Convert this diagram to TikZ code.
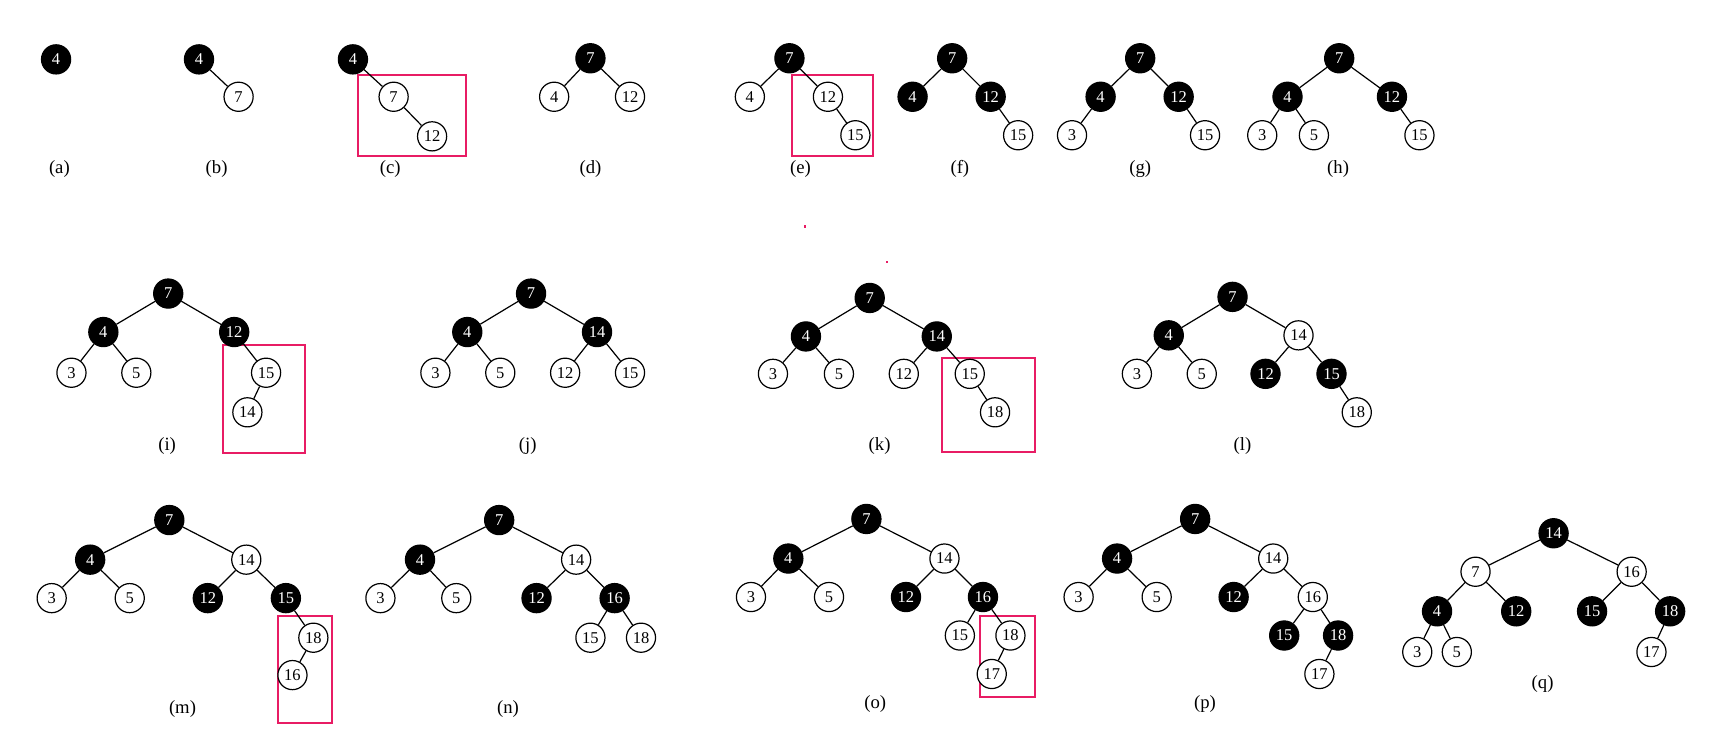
\documentclass[tikz,border=0pt]{standalone}
\usepackage{fontspec}
\setmainfont{Liberation Serif}
\definecolor{boxpink}{RGB}{232,28,100}
\begin{document}
\begin{tikzpicture}[x=1pt,y=-1pt,
  nd/.style={circle,draw=black,line width=1.1pt,minimum size=26.5pt,inner sep=0pt,font=\fontsize{15}{15}\selectfont},
  bn/.style={nd,fill=black,text=white},
  wn/.style={nd,fill=white,text=black},
  lab/.style={font=\fontsize{17}{17}\selectfont},
  hl/.style={draw=boxpink,line width=1.8pt},
  every path/.style={line width=1.1pt}]
\useasboundingbox (0,0) rectangle (1568,686);
% (a)
\node[bn] (a4) at (51,54) {4};
\node[lab] (la) at (54,154) {(a)};
% (b)
\node[bn] (b4) at (181,54) {4};
\node[wn] (b7) at (217,88) {7};
\draw (b4) -- (b7);
\node[lab] (lb) at (197,154) {(b)};
% (c)
\draw[hl] (326,68) rectangle (424,142);
\node[bn] (c4) at (321,54) {4};
\node[wn] (c7) at (358,88) {7};
\node[wn] (c12) at (393,124) {12};
\draw (c4) -- (c7) (c7) -- (c12);
\node[lab] (lc) at (355,154) {(c)};
% (d)
\node[bn] (d7) at (537,53) {7};
\node[wn] (d4) at (504,88) {4};
\node[wn] (d12) at (573,88) {12};
\draw (d7) -- (d4) (d7) -- (d12);
\node[lab] (ld) at (537,154) {(d)};
% (e)
\draw[hl] (720,68) rectangle (794,142);
\node[bn] (e7) at (718,53) {7};
\node[wn] (e4) at (682,88) {4};
\node[wn] (e12) at (753,88) {12};
\node[wn] (e15) at (778,123) {15};
\draw (e7) -- (e4) (e7) -- (e12) (e12) -- (e15);
\node[lab] (le) at (728,154) {(e)};
% (f)
\node[bn] (f7) at (866,53) {7};
\node[bn] (f4) at (830,88) {4};
\node[bn] (f12) at (901,88) {12};
\node[wn] (f15) at (926,123) {15};
\draw (f7) -- (f4) (f7) -- (f12) (f12) -- (f15);
\node[lab] (lf) at (873,154) {(f)};
% (g)
\node[bn] (g7) at (1037,53) {7};
\node[bn] (g4) at (1001,88) {4};
\node[bn] (g12) at (1072,88) {12};
\node[wn] (g3) at (975,123) {3};
\node[wn] (g15) at (1096,123) {15};
\draw (g7) -- (g4) (g7) -- (g12) (g4) -- (g3) (g12) -- (g15);
\node[lab] (lg) at (1037,154) {(g)};
% (h)
\node[bn] (h7) at (1218,53) {7};
\node[bn] (h4) at (1171,88) {4};
\node[bn] (h12) at (1266,88) {12};
\node[wn] (h3) at (1148,123) {3};
\node[wn] (h5) at (1195,123) {5};
\node[wn] (h15) at (1291,123) {15};
\draw (h7) -- (h4) (h7) -- (h12) (h4) -- (h3) (h4) -- (h5) (h12) -- (h15);
\node[lab] (lh) at (1217,154) {(h)};
% dots
\fill[boxpink] (731.5,205) rectangle (733.5,207);
\fill[boxpink] (806,237) rectangle (808,239);
% (i)
\draw[hl] (203,314) rectangle (277,412);
\node[bn] (i7) at (153,267) {7};
\node[bn] (i4) at (94,302) {4};
\node[bn] (i12) at (213,302) {12};
\node[wn] (i3) at (65,339) {3};
\node[wn] (i5) at (124,339) {5};
\node[wn] (i15) at (242,339) {15};
\node[wn] (i14) at (225,375) {14};
\draw (i7) -- (i4) (i7) -- (i12) (i4) -- (i3) (i4) -- (i5) (i12) -- (i15) (i15) -- (i14);
\node[lab] (li) at (152,406) {(i)};
% (j)
\node[bn] (j7) at (483,267) {7};
\node[bn] (j4) at (425,302) {4};
\node[bn] (j14) at (543,302) {14};
\node[wn] (j3) at (396,339) {3};
\node[wn] (j5) at (455,339) {5};
\node[wn] (j12) at (514,339) {12};
\node[wn] (j15) at (573,339) {15};
\draw (j7) -- (j4) (j7) -- (j14) (j4) -- (j3) (j4) -- (j5) (j14) -- (j12) (j14) -- (j15);
\node[lab] (lj) at (480,406) {(j)};
% (k)
\draw[hl] (857,326) rectangle (941,411);
\node[bn] (k7) at (791,271) {7};
\node[bn] (k4) at (733,306) {4};
\node[bn] (k14) at (852,306) {14};
\node[wn] (k3) at (703,340) {3};
\node[wn] (k5) at (763,340) {5};
\node[wn] (k12) at (822,340) {12};
\node[wn] (k15) at (882,340) {15};
\node[wn] (k18) at (905,375) {18};
\draw (k7) -- (k4) (k7) -- (k14) (k4) -- (k3) (k4) -- (k5) (k14) -- (k12) (k14) -- (k15) (k15) -- (k18);
\node[lab] (lk) at (800,406) {(k)};
% (l)
\node[bn] (l7) at (1121,270) {7};
\node[bn] (l4) at (1063,305) {4};
\node[wn] (l14) at (1181,305) {14};
\node[wn] (l3) at (1034,340) {3};
\node[wn] (l5) at (1093,340) {5};
\node[bn] (l12) at (1151,340) {12};
\node[bn] (l15) at (1211,340) {15};
\node[wn] (l18) at (1234,375) {18};
\draw (l7) -- (l4) (l7) -- (l14) (l4) -- (l3) (l4) -- (l5) (l14) -- (l12) (l14) -- (l15) (l15) -- (l18);
\node[lab] (ll) at (1130,406) {(l)};
% (m)
\draw[hl] (253,560) rectangle (302,658);
\node[bn] (m7) at (154,473) {7};
\node[bn] (m4) at (82,509) {4};
\node[wn] (m14) at (224,509) {14};
\node[wn] (m3) at (47,544) {3};
\node[wn] (m5) at (118,544) {5};
\node[bn] (m12) at (189,544) {12};
\node[bn] (m15) at (260,544) {15};
\node[wn] (m18) at (285,580) {18};
\node[wn] (m16) at (266,614) {16};
\draw (m7) -- (m4) (m7) -- (m14) (m4) -- (m3) (m4) -- (m5) (m14) -- (m12) (m14) -- (m15) (m15) -- (m18) (m18) -- (m16);
\node[lab] (lm) at (166,645) {(m)};
% (n)
\node[bn] (n7) at (454,473) {7};
\node[bn] (n4) at (382,509) {4};
\node[wn] (n14) at (524,509) {14};
\node[wn] (n3) at (346,544) {3};
\node[wn] (n5) at (415,544) {5};
\node[bn] (n12) at (488,544) {12};
\node[bn] (n16) at (559,544) {16};
\node[wn] (n15) at (537,580) {15};
\node[wn] (n18) at (583,580) {18};
\draw (n7) -- (n4) (n7) -- (n14) (n4) -- (n3) (n4) -- (n5) (n14) -- (n12) (n14) -- (n16) (n16) -- (n15) (n16) -- (n18);
\node[lab] (ln) at (462,645) {(n)};
% (o)
\draw[hl] (891,560) rectangle (941,634);
\node[bn] (o7) at (788,472) {7};
\node[bn] (o4) at (717,508) {4};
\node[wn] (o14) at (859,508) {14};
\node[wn] (o3) at (683,543) {3};
\node[wn] (o5) at (754,543) {5};
\node[bn] (o12) at (824,543) {12};
\node[bn] (o16) at (894,543) {16};
\node[wn] (o15) at (873,578) {15};
\node[wn] (o18) at (919,578) {18};
\node[wn] (o17) at (902,613) {17};
\draw (o7) -- (o4) (o7) -- (o14) (o4) -- (o3) (o4) -- (o5) (o14) -- (o12) (o14) -- (o16) (o16) -- (o15) (o16) -- (o18) (o18) -- (o17);
\node[lab] (lo) at (796,640) {(o)};
% (p)
\node[bn] (p7) at (1087,472) {7};
\node[bn] (p4) at (1016,508) {4};
\node[wn] (p14) at (1158,508) {14};
\node[wn] (p3) at (981,543) {3};
\node[wn] (p5) at (1052,543) {5};
\node[bn] (p12) at (1122,543) {12};
\node[wn] (p16) at (1194,543) {16};
\node[bn] (p15) at (1168,578) {15};
\node[bn] (p18) at (1217,578) {18};
\node[wn] (p17) at (1200,613) {17};
\draw (p7) -- (p4) (p7) -- (p14) (p4) -- (p3) (p4) -- (p5) (p14) -- (p12) (p14) -- (p16) (p16) -- (p15) (p16) -- (p18) (p18) -- (p17);
\node[lab] (lp) at (1096,640) {(p)};
% (q)
\node[bn] (q14) at (1413,485) {14};
\node[wn] (q7) at (1342,520) {7};
\node[wn] (q16) at (1484,520) {16};
\node[bn] (q4) at (1307,556) {4};
\node[bn] (q12) at (1379,556) {12};
\node[bn] (q15) at (1448,556) {15};
\node[bn] (q18) at (1519,556) {18};
\node[wn] (q3) at (1289,593) {3};
\node[wn] (q5) at (1325,593) {5};
\node[wn] (q17) at (1502,593) {17};
\draw (q14) -- (q7) (q14) -- (q16) (q7) -- (q4) (q7) -- (q12) (q16) -- (q15) (q16) -- (q18) (q4) -- (q3) (q4) -- (q5) (q18) -- (q17);
\node[lab] (lq) at (1403,622) {(q)};
\end{tikzpicture}
\end{document}
